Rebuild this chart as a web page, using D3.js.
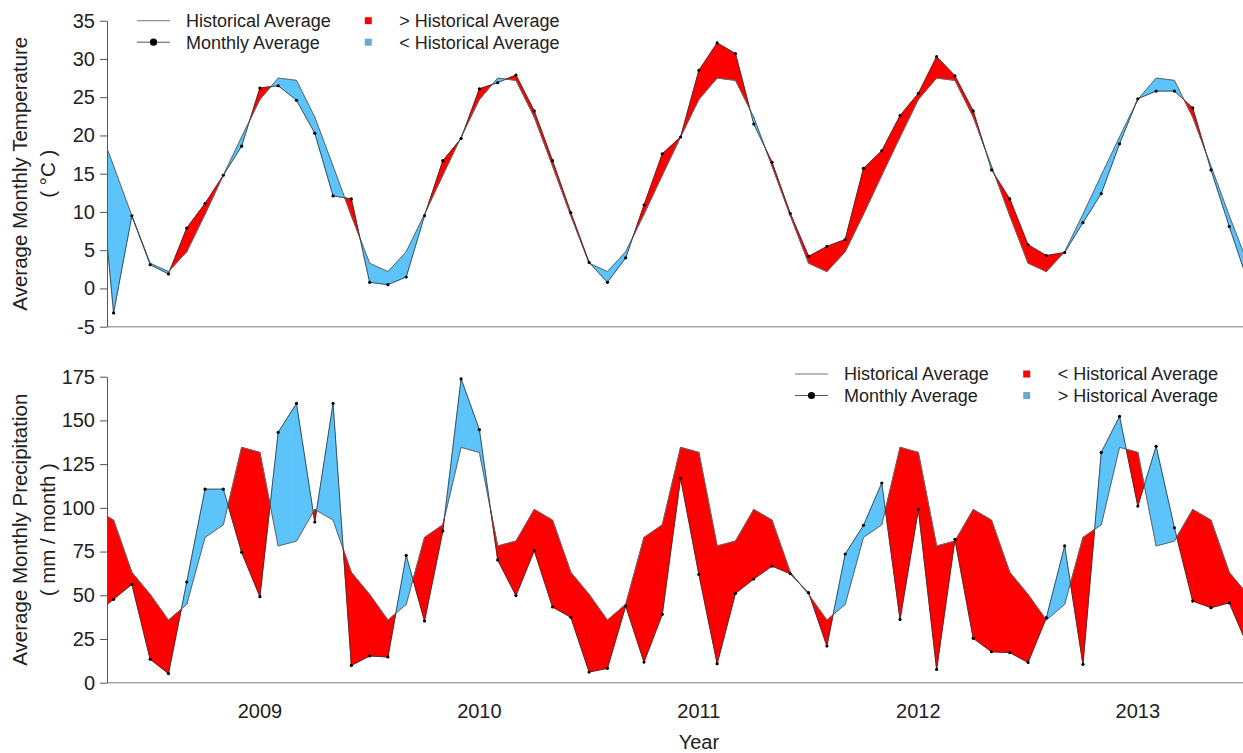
<!DOCTYPE html>
<html>
<head>
<meta charset="utf-8">
<script src="https://cdn.jsdelivr.net/npm/d3@7"></script>
<style>
  html, body { margin: 0; padding: 0; background: #fff; }
  svg { display: block; font-family: "Liberation Sans", Arial, sans-serif; }
</style>
</head>
<body>
<div id="chart"></div>
<script>
// month index: 0 is the first month shown, -1 and 62 are cut off by the frame
const monthIdx = d3.range(-1, 63);

// monthly mean temperature (degC), months -1 .. 62
const tempMonthly = [
    22.6, -3.2, 9.5, 3.1, 1.9, 7.9, 11.1, 14.8, 18.6, 26.2, 26.5, 24.6, 20.3,
    12.1, 11.7, 0.8, 0.5, 1.5, 9.5, 16.7, 19.6, 26.1, 26.9, 27.9, 23.2,
    16.7, 9.9, 3.4, 0.8, 4.0, 10.9, 17.6, 19.8, 28.5, 32.1, 30.7, 21.5,
    16.5, 9.8, 4.2, 5.5, 6.4, 15.7, 18.0, 22.6, 25.5, 30.3, 27.8, 23.2,
    15.5, 11.7, 5.7, 4.3, 4.7, 8.6, 12.4, 18.9, 24.8, 25.8, 25.8, 23.6,
    15.5, 8.1, 1.0
];

// historical average temperature by calendar position (month index mod 12)
const tempHistorical = [16.0, 9.5, 3.3, 2.2, 4.8, 9.7, 14.8, 19.8, 24.7, 27.5, 27.2, 22.4];

// monthly precipitation (mm / month), months -1 .. 62
const precipMonthly = [
    39.6, 47.7, 56.3, 13.4, 5.2, 57.6, 110.7, 110.7, 74.6, 49.2, 143.2, 159.7, 91.9,
    159.7, 9.9, 15.3, 14.7, 72.8, 35.3, 86.7, 173.8, 144.7, 70.2, 49.8, 75.5,
    43.3, 37.4, 6.1, 8.2, 43.9, 11.8, 39.1, 117.0, 62.0, 10.9, 51.1, 59.3,
    66.7, 62.3, 51.5, 21.0, 73.6, 90.0, 114.2, 36.2, 99.1, 7.6, 82.0, 25.4,
    17.7, 17.2, 11.6, 37.2, 78.2, 10.5, 131.7, 152.3, 101.0, 135.2, 88.6, 46.7,
    42.9, 45.7, 21.2
];

const precipHistorical = [93.0, 63.1, 50.5, 35.8, 44.8, 83.1, 90.3, 134.6, 131.7, 78.2, 81.0, 99.1];

const yearTickIdx = [8, 20, 32, 44, 56];
const yearLabels = ['2009', '2010', '2011', '2012', '2013'];
const tempTicks = [-5, 0, 5, 10, 15, 20, 25, 30, 35];
const precipTicks = [0, 25, 50, 75, 100, 125, 150, 175];

const RED = '#ff0000';
const BLUE = '#5cc3fb';
const LEGEND_BLUE = '#6aa8d4';
const FONT = '"Liberation Sans", Arial, sans-serif';

const width = 1243, height = 753;
const plotLeft = 107, plotRight = 1243;

const svg = d3.select('#chart').append('svg')
    .attr('width', width)
    .attr('height', height);

const xScale = d3.scaleLinear()
    .domain([-0.36, 61.75])
    .range([plotLeft, plotRight]);

function histAt(hist, i) {
    return hist[((i % 12) + 12) % 12];
}

// split the band between the two lines into polygons, cutting at crossings
function buildBands(monthly, hist) {
    const bands = [];
    for (let k = 0; k < monthIdx.length - 1; k++) {
        const i0 = monthIdx[k], i1 = monthIdx[k + 1];
        const m0 = monthly[k], m1 = monthly[k + 1];
        const h0 = histAt(hist, i0), h1 = histAt(hist, i1);
        const d0 = m0 - h0, d1 = m1 - h1;
        if (d0 * d1 >= 0) {
            bands.push({ pts: [[i0, m0], [i1, m1], [i1, h1], [i0, h0]], above: (d0 + d1) > 0 });
        } else {
            const t = d0 / (d0 - d1);
            const xc = i0 + t, yc = m0 + t * (m1 - m0);
            bands.push({ pts: [[i0, m0], [xc, yc], [i0, h0]], above: d0 > 0 });
            bands.push({ pts: [[xc, yc], [i1, m1], [i1, h1]], above: d1 > 0 });
        }
    }
    return bands;
}

function drawPanel(opts) {
    const { id, monthly, hist, yDomain, yRange, ticks, aboveColor, belowColor,
            title, unit, legend } = opts;

    const yScale = d3.scaleLinear().domain(yDomain).range(yRange);
    const top = yRange[1], bottom = yRange[0];

    svg.append('clipPath')
        .attr('id', 'clip-' + id)
        .append('rect')
        .attr('x', plotLeft)
        .attr('y', 0)
        .attr('width', plotRight - plotLeft)
        .attr('height', height);

    const g = svg.append('g').attr('clip-path', `url(#clip-${id})`);

    const poly = d3.line().x(d => xScale(d[0])).y(d => yScale(d[1]));

    // coloured bands
    g.selectAll('.band')
        .data(buildBands(monthly, hist))
        .enter()
        .append('path')
        .attr('d', d => poly(d.pts) + 'Z')
        .attr('fill', d => d.above ? aboveColor : belowColor)
        .attr('stroke', d => d.above ? aboveColor : belowColor)
        .attr('stroke-width', 0.9)
        .attr('stroke-linejoin', 'round');

    // historical average line
    g.append('path')
        .datum(monthIdx)
        .attr('fill', 'none')
        .attr('stroke', '#666')
        .attr('stroke-width', 1)
        .attr('d', d3.line().x(i => xScale(i)).y(i => yScale(histAt(hist, i))));

    // monthly line + dots
    g.append('path')
        .datum(monthIdx)
        .attr('fill', 'none')
        .attr('stroke', '#333')
        .attr('stroke-width', 0.8)
        .attr('d', d3.line().x(i => xScale(i)).y((i, k) => yScale(monthly[k])));

    g.selectAll('.dot')
        .data(monthIdx)
        .enter()
        .append('circle')
        .attr('cx', i => xScale(i))
        .attr('cy', (i, k) => yScale(monthly[k]))
        .attr('r', 1.6)
        .attr('fill', '#000');

    // x baseline
    svg.append('line')
        .attr('x1', plotLeft).attr('x2', plotRight)
        .attr('y1', bottom).attr('y2', bottom)
        .attr('stroke', '#a8a8a8')
        .attr('stroke-width', 1.5);

    // y axis
    const yAxis = svg.append('g')
        .attr('transform', `translate(${plotLeft},0)`)
        .call(d3.axisLeft(yScale)
            .tickValues(ticks)
            .tickFormat(d => String(d))
            .tickSize(7).tickPadding(5).tickSizeOuter(0));
    yAxis.select('.domain').attr('stroke', '#555');
    yAxis.selectAll('.tick line').attr('stroke', '#555');
    yAxis.selectAll('text')
        .style('font-family', FONT)
        .style('font-size', '20px')
        .attr('fill', '#222');

    // y title (two lines)
    const midY = (top + bottom) / 2;
    svg.append('text')
        .attr('transform', `translate(27,${midY}) rotate(-90)`)
        .attr('text-anchor', 'middle')
        .style('font-size', '20.5px')
        .attr('fill', '#222')
        .text(title);
    svg.append('text')
        .attr('transform', `translate(55,${midY}) rotate(-90)`)
        .attr('text-anchor', 'middle')
        .style('font-size', '20.5px')
        .attr('fill', '#222')
        .text(unit);

    // legend
    const lg = svg.append('g');
    lg.append('line')
        .attr('x1', legend.x).attr('x2', legend.x + 33)
        .attr('y1', legend.y).attr('y2', legend.y)
        .attr('stroke', '#777').attr('stroke-width', 1);
    lg.append('line')
        .attr('x1', legend.x).attr('x2', legend.x + 33)
        .attr('y1', legend.y + 21.5).attr('y2', legend.y + 21.5)
        .attr('stroke', '#555').attr('stroke-width', 1);
    lg.append('circle')
        .attr('cx', legend.x + 16.5).attr('cy', legend.y + 21.5)
        .attr('r', 3.6).attr('fill', '#000');

    const labels = [
        { x: legend.x + 49, y: legend.y, t: 'Historical Average' },
        { x: legend.x + 49, y: legend.y + 21.5, t: 'Monthly Average' },
        { x: legend.sx + 31, y: legend.y, t: legend.redText },
        { x: legend.sx + 31, y: legend.y + 21.5, t: legend.blueText }
    ];
    labels.forEach(l => {
        lg.append('text')
            .attr('x', l.x).attr('y', l.y)
            .attr('dy', '0.35em')
            .style('font-size', '18px')
            .attr('fill', '#222')
            .text(l.t);
    });
    [{ y: legend.y, c: RED }, { y: legend.y + 21.5, c: LEGEND_BLUE }].forEach(s => {
        lg.append('rect')
            .attr('x', legend.sx - 3.5).attr('y', s.y - 3.5)
            .attr('width', 7).attr('height', 7)
            .attr('fill', s.c);
    });

    return yScale;
}

drawPanel({
    id: 'temp',
    monthly: tempMonthly,
    hist: tempHistorical,
    yDomain: [-5, 35],
    yRange: [326.7, 20.7],
    ticks: tempTicks,
    aboveColor: RED,
    belowColor: BLUE,
    title: 'Average Monthly Temperature',
    unit: '( \u00B0C )',
    legend: { x: 137, y: 20.7, sx: 368.3, redText: '> Historical Average', blueText: '< Historical Average' }
});

drawPanel({
    id: 'precip',
    monthly: precipMonthly,
    hist: precipHistorical,
    yDomain: [0, 175],
    yRange: [682.7, 376.7],
    ticks: precipTicks,
    aboveColor: BLUE,
    belowColor: RED,
    title: 'Average Monthly Precipitation',
    unit: '( mm / month )',
    legend: { x: 795, y: 374, sx: 1026.7, redText: '< Historical Average', blueText: '> Historical Average' }
});

// x labels under the lower panel
svg.selectAll('.year')
    .data(yearTickIdx)
    .enter()
    .append('text')
    .attr('x', i => xScale(i))
    .attr('y', 718)
    .attr('text-anchor', 'middle')
    .style('font-size', '20px')
    .attr('fill', '#222')
    .text((d, k) => yearLabels[k]);

svg.append('text')
    .attr('x', xScale(32))
    .attr('y', 749)
    .attr('text-anchor', 'middle')
    .style('font-size', '20px')
    .attr('fill', '#222')
    .text('Year');
</script>
</body>
</html>
